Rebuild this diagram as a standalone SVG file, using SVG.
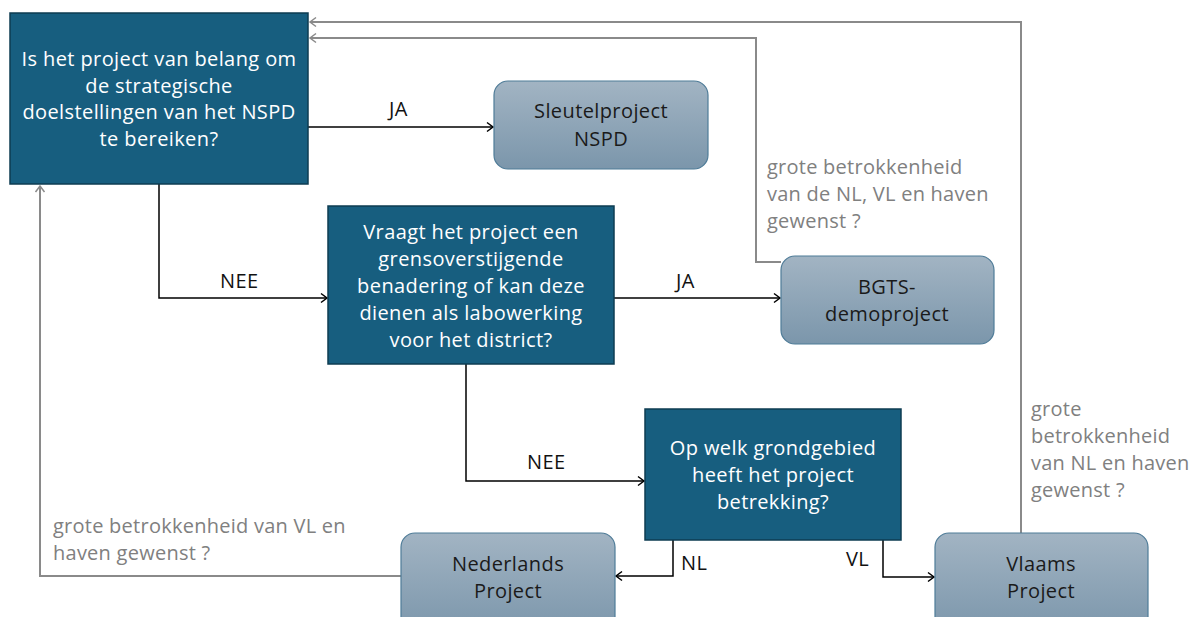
<svg xmlns="http://www.w3.org/2000/svg" width="1193" height="617" viewBox="0 0 1193 617">
<style>
.q{fill:#175e7f;stroke:#0e3c52;stroke-width:1.5}
.p{fill:url(#g);stroke:#4f7c98;stroke-width:1.2}
.t{font-family:"Open Sans","Liberation Sans",Arial,sans-serif;font-size:20px;letter-spacing:0.4px;text-anchor:middle}
.w{fill:#ffffff}
.k{fill:#1a1a1a}
.lbl{font-family:"Open Sans","Liberation Sans",Arial,sans-serif;font-size:20px;letter-spacing:0.4px;fill:#111}
.gl{font-family:"Open Sans","Liberation Sans",Arial,sans-serif;font-size:20px;letter-spacing:0.25px;fill:#808080}
.c{fill:none;stroke:#000;stroke-width:1.5;marker-end:url(#ab)}
.cg{fill:none;stroke:#8a8a8a;stroke-width:2;marker-end:url(#ag)}
</style>
<defs>
<linearGradient id="g" x1="0" y1="0" x2="0" y2="1">
<stop offset="0" stop-color="#a2b4c3"/>
<stop offset="1" stop-color="#7b96ab"/>
</linearGradient>
<marker id="ab" markerWidth="12" markerHeight="12" refX="9" refY="6" orient="auto" markerUnits="userSpaceOnUse">
<path d="M3,1.5 L9,6 L3,10.5" fill="none" stroke="#000" stroke-width="1.5"/>
</marker>
<marker id="ag" markerWidth="12" markerHeight="12" refX="9" refY="6" orient="auto" markerUnits="userSpaceOnUse">
<path d="M3,1.5 L9,6 L3,10.5" fill="none" stroke="#8a8a8a" stroke-width="1.5"/>
</marker>
</defs>
<g id="connectors">
<path class="c" d="M308,127 H493"/>
<path class="c" d="M159,184 V298 H327"/>
<path class="c" d="M614,298 H780"/>
<path class="c" d="M466,364 V481 H644"/>
<path class="c" d="M673,540 V576 H616"/>
<path class="c" d="M883,540 V577 H934"/>
<path class="cg" d="M401,576 H40 V186"/>
<path class="cg" d="M781,262 H756 V38 H310"/>
<path class="cg" d="M1021,533 V22 H310"/>
<text class="lbl" x="389" y="116">JA</text>
<text class="lbl" x="220" y="288">NEE</text>
<text class="lbl" x="676" y="288">JA</text>
<text class="lbl" x="527" y="469">NEE</text>
<text class="lbl" x="681" y="570">NL</text>
<text class="lbl" x="846" y="566">VL</text>
<text class="gl" x="53" y="533">grote betrokkenheid van VL en</text>
<text class="gl" x="53" y="560">haven gewenst ?</text>
<text class="gl" x="767" y="174">grote betrokkenheid</text>
<text class="gl" x="767" y="201">van de NL, VL en haven</text>
<text class="gl" x="767" y="228">gewenst ?</text>
<text class="gl" x="1031" y="416">grote</text>
<text class="gl" x="1031" y="443">betrokkenheid</text>
<text class="gl" x="1031" y="470">van NL en haven</text>
<text class="gl" x="1031" y="497">gewenst ?</text>
</g>
<g id="n1">
<rect class="q" x="10" y="13" width="298" height="171"/>
<text class="t w" x="159" y="66">Is het project van belang om</text>
<text class="t w" x="159" y="93">de strategische</text>
<text class="t w" x="159" y="119">doelstellingen van het NSPD</text>
<text class="t w" x="159" y="146">te bereiken?</text>
</g>
<g id="n2">
<rect class="p" x="494" y="81" width="214" height="88" rx="14"/>
<text class="t k" x="601" y="118">Sleutelproject</text>
<text class="t k" x="601" y="146">NSPD</text>
</g>
<g id="n3">
<rect class="q" x="328" y="206" width="286" height="158"/>
<text class="t w" x="471" y="239">Vraagt het project een</text>
<text class="t w" x="471" y="266">grensoverstijgende</text>
<text class="t w" x="471" y="293">benadering of kan deze</text>
<text class="t w" x="471" y="320">dienen als labowerking</text>
<text class="t w" x="471" y="347">voor het district?</text>
</g>
<g id="n4">
<rect class="p" x="781" y="256" width="213" height="88" rx="14"/>
<text class="t k" x="887" y="294">BGTS-</text>
<text class="t k" x="887" y="321">demoproject</text>
</g>
<g id="n5">
<rect class="q" x="645" y="409" width="256" height="131"/>
<text class="t w" x="773" y="455">Op welk grondgebied</text>
<text class="t w" x="773" y="482">heeft het project</text>
<text class="t w" x="773" y="509">betrekking?</text>
</g>
<g id="n6">
<rect class="p" x="401" y="533" width="214" height="100" rx="14"/>
<text class="t k" x="508" y="571">Nederlands</text>
<text class="t k" x="508" y="598">Project</text>
</g>
<g id="n7">
<rect class="p" x="935" y="533" width="213" height="100" rx="14"/>
<text class="t k" x="1041" y="571">Vlaams</text>
<text class="t k" x="1041" y="598">Project</text>
</g>
</svg>
